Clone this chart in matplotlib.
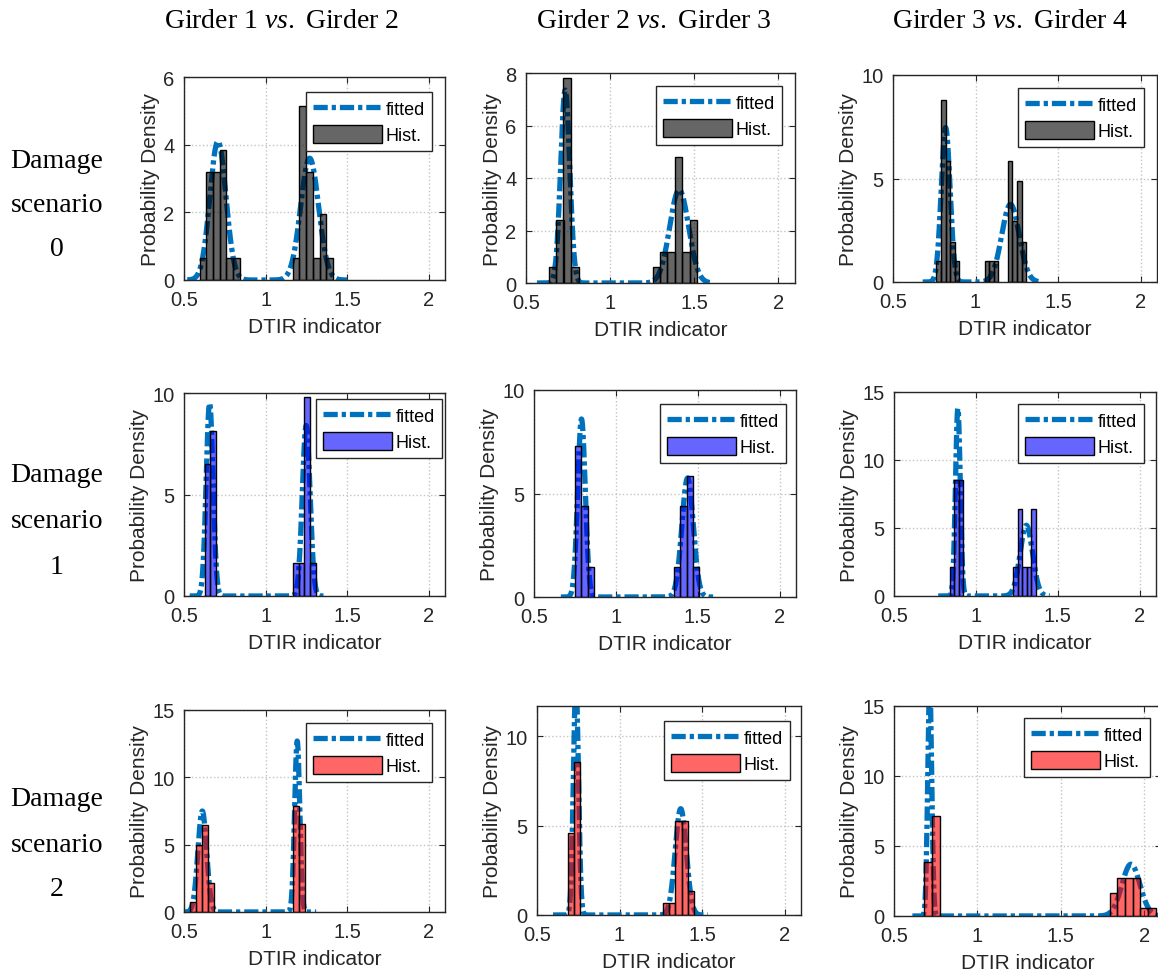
import matplotlib
matplotlib.use("Agg")
import matplotlib.pyplot as plt
import numpy as np

# histogram bins: left edges, bar heights, one width per panel
bin_left = [
    [0.596, 0.637, 0.678, 0.719, 0.760, 0.801, 1.167, 1.208, 1.249, 1.290, 1.331, 1.372],
    [0.634, 0.679, 0.723, 0.768, 1.253, 1.297, 1.341, 1.386, 1.430, 1.474],
    [0.763, 0.791, 0.819, 0.847, 0.875, 1.055, 1.083, 1.111, 1.195, 1.223, 1.251, 1.279],
    [0.627, 0.662, 1.167, 1.202, 1.237, 1.272],
    [0.750, 0.789, 0.828, 1.354, 1.393, 1.432, 1.471],
    [0.841, 0.868, 0.896, 1.229, 1.256, 1.284, 1.311, 1.339],
    [0.535, 0.572, 0.608, 0.645, 1.167, 1.203],
    [0.686, 0.724, 1.262, 1.300, 1.338, 1.376, 1.414],
    [0.682, 0.728, 1.792, 1.838, 1.884, 1.930, 1.976, 2.022],
]
bin_height = [
    [0.65, 3.2, 3.2, 3.85, 0.65, 0.65, 0.65, 5.15, 3.2, 0.65, 1.95, 0.65],
    [0.6, 2.4, 7.8, 0.6, 0.6, 1.2, 1.2, 4.8, 1.2, 2.4],
    [1.0, 8.8, 5.85, 1.95, 1.0, 1.0, 1.0, 1.0, 5.85, 2.95, 4.88, 1.95],
    [6.5, 8.15, 1.65, 1.65, 9.8, 1.65],
    [7.3, 4.4, 1.45, 1.45, 4.4, 5.85, 1.45],
    [2.15, 8.55, 8.55, 2.15, 6.42, 2.15, 2.15, 6.42],
    [0.74, 5.0, 6.47, 2.15, 7.9, 6.5],
    [4.6, 8.56, 0.67, 0.67, 5.29, 5.29, 1.35],
    [3.87, 7.12, 1.67, 2.75, 2.75, 2.75, 0.6, 0.6],
]
bin_width = [0.041, 0.0445, 0.028, 0.035, 0.039, 0.0275, 0.0365, 0.038, 0.046]

# fitted two-component normal: means, sigmas, peak heights, plotted x range
fit_mu = [(0.708, 1.270), (0.733, 1.411), (0.819, 1.212),
          (0.657, 1.249), (0.790, 1.438), (0.890, 1.308),
          (0.612, 1.194), (0.736, 1.371), (0.714, 1.920)]
fit_sigma = [(0.049, 0.055), (0.027, 0.056), (0.0267, 0.053),
             (0.021, 0.0237), (0.023, 0.0347), (0.0145, 0.038),
             (0.0266, 0.0157), (0.0153, 0.0335), (0.012, 0.054)]
fit_peak = [(4.1, 3.6), (7.35, 3.55), (7.46, 3.75),
            (9.5, 8.4), (8.6, 5.75), (13.8, 5.2),
            (7.5, 12.7), (13.0, 5.95), (16.5, 3.7)]
fit_range = [(0.52, 1.50), (0.565, 1.593), (0.68, 1.381),
             (0.535, 1.37), (0.664, 1.594), (0.77, 1.451),
             (0.50, 1.31), (0.597, 1.536), (0.61, 2.1)]

y_top = [6, 8, 10, 10, 10, 15, 15, 11.7, 15]
y_ticks = [[0, 2, 4, 6], [0, 2, 4, 6, 8], [0, 5, 10],
           [0, 5, 10], [0, 5, 10], [0, 5, 10, 15],
           [0, 5, 10, 15], [0, 5, 10], [0, 5, 10, 15]]
x_ticks = [0.5, 1, 1.5, 2]
x_ticklabels = ["0.5", "1", "1.5", "2"]

col_titles = [r"Girder 1 $\mathit{vs.}$ Girder 2",
              r"Girder 2 $\mathit{vs.}$ Girder 3",
              r"Girder 3 $\mathit{vs.}$ Girder 4"]
row_titles = [["Damage", "scenario", "0"],
              ["Damage", "scenario", "1"],
              ["Damage", "scenario", "2"]]
row_colors = [(0, 0, 0, 0.6), (0, 0, 1, 0.6), (1, 0, 0, 0.6)]

# axes boxes in pixels (left, top, right, bottom) and legend offsets (dx, dy)
W, H = 1158, 979
boxes = [(184, 78, 445, 281), (526, 74, 795, 284), (893, 76, 1157, 283),
         (184, 394, 445, 597), (534, 391, 796, 598), (894, 393, 1156, 597),
         (184, 711, 445, 913), (537, 707, 801, 916), (894, 707, 1161, 917)]
leg_off = [(13, 15), (13, 13), (13, 13), (3, 6), (10, 14), (12, 12),
           (13, 13), (11, 15), (11, 12)]

plt.rcParams["font.family"] = ["Liberation Sans", "DejaVu Sans"]
plt.rcParams["mathtext.fontset"] = "custom"
plt.rcParams["mathtext.rm"] = "Liberation Serif"
plt.rcParams["mathtext.it"] = "Liberation Serif:italic"

dark = "#262626"
fit_color = "#0072BD"

fig = plt.figure(figsize=(W / 100, H / 100), dpi=100)

for i in range(9):
    l, t, r, b = boxes[i]
    ax = fig.add_axes([l / W, (H - b) / H, (r - l) / W, (b - t) / H])
    ax.set_axisbelow(True)

    x = np.linspace(fit_range[i][0], fit_range[i][1], 600)
    y = np.zeros_like(x)
    for mu, sg, pk in zip(fit_mu[i], fit_sigma[i], fit_peak[i]):
        y = y + pk * np.exp(-0.5 * ((x - mu) / sg) ** 2)
    ax.plot(x, y, color=fit_color, lw=3.8, ls=(0, (2.7, 0.75, 0.8, 0.75)),
            dash_capstyle="butt", label="fitted", zorder=2)

    ax.bar(bin_left[i], bin_height[i], width=bin_width[i], align="edge",
           facecolor=row_colors[i // 3], edgecolor="black", lw=1.0,
           zorder=3, label="Hist.")

    ax.set_xlim(0.5, 2.1)
    ax.set_ylim(0, y_top[i])
    ax.set_xticks(x_ticks)
    ax.set_xticklabels(x_ticklabels)
    ax.set_yticks(y_ticks[i])
    ax.grid(True, color="#c4c4c4", ls=":", lw=1.0)
    ax.tick_params(direction="in", length=4, width=0.8, top=True, right=True,
                   labelsize=14.5, colors=dark, pad=7)
    for s in ax.spines.values():
        s.set_color(dark)
        s.set_linewidth(1.0)
    ax.set_xlabel("DTIR indicator", fontsize=15, color=dark, labelpad=6)
    ax.set_ylabel("Probability Density", fontsize=15, color=dark, labelpad=2)

    dx, dy = leg_off[i]
    leg = ax.legend(loc="upper right",
                    bbox_to_anchor=(1 - dx / (r - l), 1 - dy / (b - t)),
                    borderaxespad=0, fontsize=13, handlelength=3.8,
                    handleheight=1.1, handletextpad=0.2, labelspacing=0.4,
                    borderpad=0.4, fancybox=False, framealpha=1,
                    edgecolor=dark)
    leg.get_frame().set_linewidth(1.0)
    for txt in leg.get_texts():
        txt.set_color("black")

col_x = [281, 654, 1010]
for j in range(3):
    fig.text(col_x[j] / W, 1 - 22 / H, col_titles[j], fontsize=20,
             family="Liberation Serif", ha="center", va="center")

row_y = [(161, 206, 250), (476, 521, 567), (800, 845, 889)]
for k in range(3):
    for line, yy in zip(row_titles[k], row_y[k]):
        fig.text(57 / W, 1 - yy / H, line, fontsize=20,
                 family="Liberation Serif", ha="center", va="center")

fig.savefig("out.png", dpi=100)
